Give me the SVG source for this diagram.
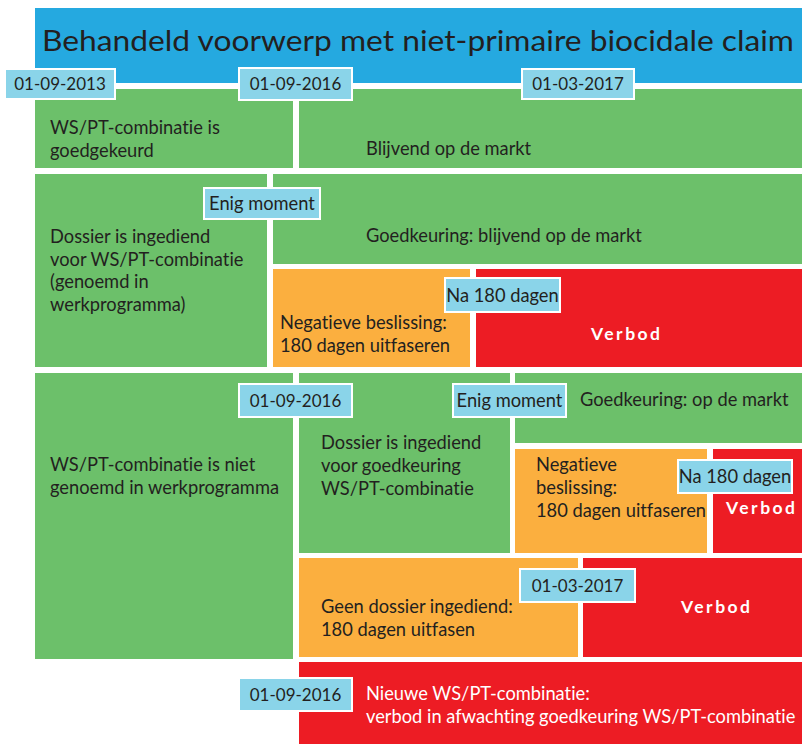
<svg xmlns="http://www.w3.org/2000/svg" width="802" height="744" viewBox="0 0 802 744">
<style>
text{font-family:Lato,"Open Sans","Liberation Sans",sans-serif;font-size:18.3px;fill:#231f20;font-variant-ligatures:none}
.title{font-size:29px}
.g{fill:#6cc06a}
.o{fill:#fbaf3f}
.r{fill:#ed1c24}
.lab{fill:#8ad4e9;stroke:#ffffff;stroke-width:2}
.lt{text-anchor:middle;font-size:18.3px}
.dt{text-anchor:middle;font-size:17px}
.w{fill:#ffffff}
.vb{fill:#ffffff;font-weight:bold;font-size:17.5px;letter-spacing:2.5px}
</style>
<rect width="802" height="744" fill="#ffffff"/>
<g id="title">
<rect x="35" y="8" width="767" height="75" fill="#25a9e0"/>
<text class="title" x="42" y="51" textLength="752" lengthAdjust="spacingAndGlyphs">Behandeld voorwerp met niet-primaire biocidale claim</text>
</g>
<g id="goedgekeurd">
<rect class="g" x="35" y="89" width="258" height="79"/>
<text x="50" y="134">WS/PT-combinatie is</text>
<text x="50" y="157">goedgekeurd</text>
</g>
<g id="blijvend">
<rect class="g" x="299" y="89" width="503" height="79"/>
<text x="366" y="155">Blijvend op de markt</text>
</g>
<g id="dossier-wp">
<rect class="g" x="35" y="174" width="232" height="193"/>
<text x="50" y="243">Dossier is ingediend</text>
<text x="50" y="265.5">voor WS/PT-combinatie</text>
<text x="50" y="288">(genoemd in</text>
<text x="50" y="310.5">werkprogramma)</text>
</g>
<g id="goedkeuring-blijvend">
<rect class="g" x="273" y="174" width="529" height="90"/>
<text x="366" y="242">Goedkeuring: blijvend op de markt</text>
</g>
<g id="negatief-1">
<rect class="o" x="273" y="269" width="197" height="98"/>
<text x="280" y="329">Negatieve beslissing:</text>
<text x="280" y="352">180 dagen uitfaseren</text>
</g>
<g id="verbod-1">
<rect class="r" x="476" y="269" width="326" height="98"/>
<text class="vb" x="591" y="340">Verbod</text>
</g>
<g id="niet-genoemd">
<rect class="g" x="35" y="373" width="258" height="286"/>
<text x="50" y="471">WS/PT-combinatie is niet</text>
<text x="50" y="494">genoemd in werkprogramma</text>
</g>
<g id="dossier-goedkeuring">
<rect class="g" x="299" y="373" width="211" height="180"/>
<text x="321" y="449">Dossier is ingediend</text>
<text x="321" y="472">voor goedkeuring</text>
<text x="321" y="495">WS/PT-combinatie</text>
</g>
<g id="goedkeuring-markt">
<rect class="g" x="515" y="373" width="287" height="70"/>
<text x="580" y="406">Goedkeuring: op de markt</text>
</g>
<g id="negatief-2">
<rect class="o" x="515" y="449" width="192" height="104"/>
<text x="536" y="471">Negatieve</text>
<text x="536" y="494">beslissing:</text>
<text x="536" y="517">180 dagen uitfaseren</text>
</g>
<g id="verbod-2">
<rect class="r" x="713" y="449" width="89" height="104"/>
<text class="vb" x="726" y="514">Verbod</text>
</g>
<g id="geen-dossier">
<rect class="o" x="299" y="558" width="279" height="99"/>
<text x="321" y="613">Geen dossier ingediend:</text>
<text x="321" y="636">180 dagen uitfasen</text>
</g>
<g id="verbod-3">
<rect class="r" x="583" y="558" width="219" height="99"/>
<text class="vb" x="681" y="613">Verbod</text>
</g>
<g id="nieuwe">
<rect class="r" x="299" y="662" width="503" height="82"/>
<text class="w" x="366" y="700">Nieuwe WS/PT-combinatie:</text>
<text class="w" x="366" y="723">verbod in afwachting goedkeuring WS/PT-combinatie</text>
</g>
<g id="label-2013">
<rect class="lab" x="5" y="69" width="110" height="30"/>
<text class="dt" x="60" y="90">01-09-2013</text>
</g>
<g id="label-2016a">
<rect class="lab" x="239" y="68" width="113" height="32"/>
<text class="dt" x="295.5" y="90">01-09-2016</text>
</g>
<g id="label-2017a">
<rect class="lab" x="522" y="69" width="112" height="30"/>
<text class="dt" x="578" y="90">01-03-2017</text>
</g>
<g id="label-enig1">
<rect class="lab" x="204" y="188" width="116" height="31"/>
<text class="lt" x="262" y="210">Enig moment</text>
</g>
<g id="label-na1">
<rect class="lab" x="445" y="278" width="115" height="34"/>
<text class="lt" x="502.5" y="302">Na 180 dagen</text>
</g>
<g id="label-2016b">
<rect class="lab" x="239" y="384" width="113" height="33"/>
<text class="dt" x="295.5" y="407">01-09-2016</text>
</g>
<g id="label-enig2">
<rect class="lab" x="453" y="384" width="113" height="33"/>
<text class="lt" x="509.5" y="407">Enig moment</text>
</g>
<g id="label-na2">
<rect class="lab" x="678" y="460" width="114" height="33"/>
<text class="lt" x="735" y="483">Na 180 dagen</text>
</g>
<g id="label-2017b">
<rect class="lab" x="520" y="569" width="115" height="33"/>
<text class="dt" x="577.5" y="592">01-03-2017</text>
</g>
<g id="label-2016c">
<rect class="lab" x="239" y="678" width="113" height="33"/>
<text class="dt" x="295.5" y="701">01-09-2016</text>
</g>
</svg>
